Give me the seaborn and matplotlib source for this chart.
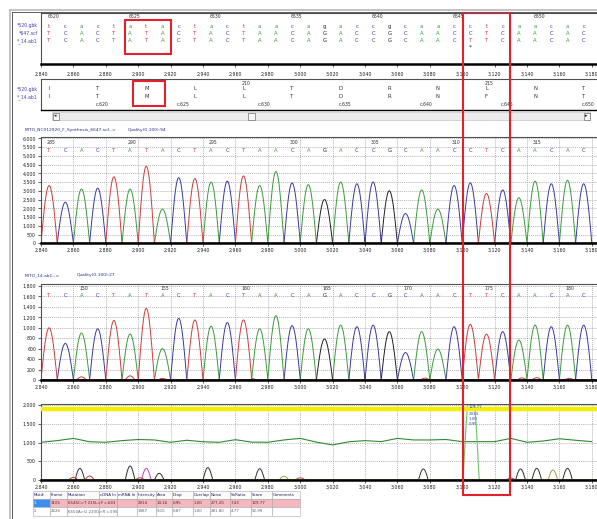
import numpy as np
import pandas as pd
import matplotlib
matplotlib.use("Agg")
import matplotlib.pyplot as plt
from matplotlib.patches import Rectangle
from matplotlib.ticker import FuncFormatter, MultipleLocator
import matplotlib.transforms as mtransforms
import seaborn as sns

# --- Dados ---
W, H = 597, 519

# posicoes dos picos (unidades de scan)
posicoes = [2845, 2855, 2865, 2875, 2885, 2895, 2905, 2915, 2925, 2935, 2945, 2955,
            2965, 2975, 2985, 2995, 3005, 3015, 3025, 3035, 3045, 3055, 3065, 3075,
            3085, 3095, 3105, 3115, 3125, 3135, 3145, 3155, 3165, 3175]

seq_ref = list("tcactatactactaacagaccgcaacctcaacac")
seq_scf = list("TCACTATACTACTAACAGACCGCAACCTCAACAC")
seq_ab1 = list("TCACTATACTACTAACAGACCGCAACTTCAACAC")

# alturas dos picos - cromatograma 1 (scf)
alturas_scf = [3300, 2350, 3100, 3150, 3800, 3100, 4400, 1950, 3750, 3700, 3500, 3550,
               3850, 3300, 4100, 3450, 3350, 2500, 3500, 3400, 3500, 3000, 1700, 3050,
               1950, 3300, 3450, 2850, 3050, 2600, 3550, 3400, 3600, 3400]
# alturas dos picos - cromatograma 2 (ab1)
alturas_ab1 = [1000, 700, 900, 980, 1140, 880, 1330, 600, 1180, 1110, 1030, 1100,
               1150, 980, 1230, 1040, 980, 785, 1050, 1020, 1050, 925, 525, 925,
               590, 1020, 1065, 880, 925, 765, 1050, 1020, 1050, 1050]
# picos secundarios pequenos (vermelhos) no cromatograma 2
secund_pos = [2865, 2895, 2905, 2915, 2935, 2970, 3077, 3137, 3146, 3166]
secund_alt = [60, 80, 40, 30, 40, 30, 35, 40, 45, 30]

marcas_scf = ["285", "290", "295", "300", "305", "310", "315"]
marcas_ab1 = ["150", "155", "160", "165", "170", "175", "180"]
marcas_ref = ["6520", "6525", "6530", "6535", "6540", "6545", "6550"]

aa_ref = ["I", "T", "M", "L", "L", "T", "D", "R", "N", "L", "N", "T"]
aa_ab1 = ["I", "T", "M", "L", "L", "T", "D", "R", "N", "F", "N", "T"]
codons = ["c.620", "c.625", "c.630", "c.635", "c.640", "c.645", "c.650"]

# painel de mutacao
linha_pos = [2840, 2850, 2860, 2870, 2880, 2890, 2900, 2910, 2920, 2930, 2940, 2950,
             2960, 2970, 2980, 2990, 3000, 3010, 3020, 3030, 3040, 3050, 3060, 3070,
             3080, 3090, 3100, 3110, 3120, 3130, 3140, 3150, 3160, 3170, 3180]
linha_val = [1006, 1050, 1110, 1020, 1006, 1050, 1080, 1068, 1006, 1060, 1020, 1006,
             1075, 1010, 1006, 1068, 1110, 1010, 935, 1020, 1050, 1023, 1110, 1068,
             1068, 1080, 1023, 1023, 1023, 1110, 1006, 1040, 1100, 1060, 1023]
limiar = 1900
picos_mut_pos = [2864, 2895, 2913, 2943, 2975, 3076, 3136, 3146, 3165,
                 2860, 2870, 2901, 3000, 3130, 2905, 2990, 3156]
picos_mut_alt = [311, 374, 178, 330, 302, 294, 294, 311, 311,
                 71, 107, 60, 60, 50, 311, 100, 267]
picos_mut_cor = ["k"] * 9 + ["r"] * 5 + ["m", "o", "o"]
mut_principal = (3105.5, 2600)
mut_textos = ["129.77", "2914", "1.00", "0.95"]
mut_textos_y = [1949, 1762, 1629, 1495]

colunas = ["Mut#", "Frame", "Mutation", "cDNA In", "mRNA In", "Intensity", "Area",
           "Drop", "Overlap", "Noise", "SnRatio", "Score", "Comments"]
linha1 = ["1", "3105", "6546C>T 215L>F c.643", "", "", "2914", "14.16", "0.95",
          "1.00", "277.20", "7.43", "129.77", ""]
linha2 = ["2", "2626", "6500A>G 233Q>R c.595", "", "", "1987", "9.15", "0.87",
          "1.00", "281.80", "4.77", "92.99", ""]

CORES = {"A": "#3c9a3c", "C": "#3a3aa0", "G": "#202020", "T": "#cc3c3c"}
CORES_MUT = {"k": "#303030", "r": "#d04040", "m": "#c040c0", "o": "#a0a040"}
AZUL = "#2a2a90"

# tamanhos de fonte
FS_TICK = 3.4
FS_BASE = 3.8
FS_MARCA = 3.3
FS_TITULO = 3.2
FS_TABELA = 2.9

# --- Geometria (pixels da captura) ---
AX_L, AX_R = 41, 603
PX_UN = 1.62
X_MIN, X_MAX = 2840, 2840 + (AX_R - AX_L) / PX_UN


def eixo_px(fig, top, bottom):
    return fig.add_axes([AX_L / W, 1 - bottom / H, (AX_R - AX_L) / W, (bottom - top) / H])


def lombada(x, centro, altura, meia):
    d = np.clip(np.abs(x - centro) / meia, 0, 1)
    return altura * np.cos(d * np.pi / 2)


def fmt_milhar(v, p):
    return f"{int(round(v)):,}"


def estilo(ax, ymax, ystep, rotulos_x=True):
    ax.set_xlim(X_MIN, X_MAX)
    ax.set_ylim(0, ymax)
    ax.xaxis.set_major_locator(MultipleLocator(20))
    ax.yaxis.set_major_locator(MultipleLocator(ystep))
    ax.xaxis.set_major_formatter(FuncFormatter(fmt_milhar))
    ax.yaxis.set_major_formatter(FuncFormatter(fmt_milhar))
    ax.set_axisbelow(True)
    ax.grid(True, ls=(0, (1.5, 1.5)), color="#9a9a9a", lw=0.5)
    ax.tick_params(bottom=True, left=True, length=2, width=0.5, pad=1.5,
                   labelsize=FS_TICK, colors="#202020", labelbottom=rotulos_x)
    ax.set_xlabel("")
    ax.set_ylabel("")
    ax.spines["right"].set_visible(False)
    for s in ("top", "left"):
        ax.spines[s].set_color("#505050")
        ax.spines[s].set_linewidth(0.8)
    ax.spines["bottom"].set_color("black")
    ax.spines["bottom"].set_linewidth(1.8)


def tracos(seq, alturas, extra_pos=(), extra_alt=()):
    x = np.linspace(2836, 3190, 2400)
    linhas = []
    for b in "ACGT":
        y = np.zeros_like(x)
        for p, s, h in zip(posicoes, seq, alturas):
            if s.upper() == b:
                y += lombada(x, p, h, 5)
        if b == "T":
            for p, h in zip(extra_pos, extra_alt):
                y += lombada(x, p, h, 3)
        linhas.append(pd.DataFrame({"pos": x, "sinal": y, "base": b}))
    return pd.concat(linhas, ignore_index=True)


def cromatograma(ax, seq, alturas, marcas, idx_marca0, ymax, ystep, extra_pos=(), extra_alt=()):
    df = tracos(seq, alturas, extra_pos, extra_alt)
    sns.lineplot(data=df, x="pos", y="sinal", hue="base", palette=CORES, legend=False,
                 estimator=None, sort=False, lw=0.7, ax=ax)
    estilo(ax, ymax, ystep)
    tr = mtransforms.blended_transform_factory(ax.transData, ax.transAxes)
    for p, s in zip(posicoes, seq):
        ax.text(p, 0.88, s, color=CORES[s.upper()], fontsize=FS_BASE, ha="center", va="center",
                transform=tr)
    for k, m in enumerate(marcas):
        ax.text(posicoes[idx_marca0 + 5 * k] - 1.5, 0.95, m, color="#303030", fontsize=FS_MARCA,
                ha="left", va="center", transform=tr)


def main():
    sns.set_style("white")
    plt.rcParams["font.family"] = ["DejaVu Sans"]
    fig = plt.figure(figsize=(W / 100, H / 100), dpi=100)

    # --- painel de alinhamento ---
    ax_seq = eixo_px(fig, 13, 64)
    estilo(ax_seq, 1, 1)
    ax_seq.grid(False)
    ax_seq.set_yticks([])
    ax_seq.tick_params(pad=3.5)
    for p, a, b, c in zip(posicoes, seq_ref, seq_scf, seq_ab1):
        for y, s in zip((0.745, 0.602, 0.457), (a, b, c)):
            ax_seq.text(p, y, s, color=CORES[s.upper()], fontsize=FS_BASE, ha="center", va="center")
    ax_seq.text(posicoes[26], 0.33, "*", fontsize=4.2, ha="center", va="center", color="#202020")
    for k, m in enumerate(marcas_ref):
        ax_seq.text(posicoes[5 * k] - 1, 0.93, m, fontsize=FS_MARCA, ha="left", va="center",
                    color="#303030")

    # --- painel de aminoacidos ---
    ax_aa = eixo_px(fig, 79, 110)
    estilo(ax_aa, 1, 1, rotulos_x=False)
    ax_aa.grid(False)
    ax_aa.set_xticks([])
    ax_aa.set_yticks([])
    ax_aa.spines["bottom"].set_linewidth(1.0)
    for k, (a, b) in enumerate(zip(aa_ref, aa_ab1)):
        p = posicoes[3 * k]
        ax_aa.text(p, 0.68, a, fontsize=FS_BASE, ha="center", va="center", color="#303030")
        ax_aa.text(p, 0.42, b, fontsize=FS_BASE, ha="center", va="center", color="#303030")
    ax_aa.text(posicoes[12] - 1, 0.86, "210", fontsize=FS_MARCA, ha="left", va="center", color="#303030")
    ax_aa.text(posicoes[27] - 1, 0.86, "215", fontsize=FS_MARCA, ha="left", va="center", color="#303030")
    for k, c in enumerate(codons):
        ax_aa.text(posicoes[3 + 5 * k] - 1.5, 0.17, c, fontsize=FS_MARCA, ha="left", va="center",
                   color="#303030")

    # --- cromatogramas ---
    ax_c1 = eixo_px(fig, 137.3, 243.3)
    cromatograma(ax_c1, seq_scf, alturas_scf, marcas_scf, 0, 6057, 500)
    ax_c2 = eixo_px(fig, 284, 380)
    cromatograma(ax_c2, seq_ab1, alturas_ab1, marcas_ab1, 2, 1838, 200,
                 secund_pos, secund_alt)

    # --- painel de mutacao ---
    ax_m = eixo_px(fig, 404, 480)
    df_linha = pd.DataFrame({"pos": linha_pos, "valor": linha_val})
    sns.lineplot(data=df_linha, x="pos", y="valor", color="#2e8b2e", lw=0.8, ax=ax_m)
    ax_m.axhline(limiar, color="#f2f000", lw=3.2, zorder=3)
    x = np.linspace(2836, 3190, 2400)
    for p, h, c in zip(picos_mut_pos, picos_mut_alt, picos_mut_cor):
        y = lombada(x, p, h, 3)
        sel = y > 0
        sns.lineplot(x=x[sel], y=y[sel], color=CORES_MUT[c], lw=0.7, ax=ax_m, estimator=None)
    y = lombada(x, mut_principal[0], mut_principal[1], 5)
    sel = y > 0
    sns.lineplot(x=x[sel], y=y[sel], color="#70c070", lw=0.8, ax=ax_m, estimator=None)
    for t, yy in zip(mut_textos, mut_textos_y):
        ax_m.text(3104, yy, t, fontsize=2.8, color="#3040c0", ha="left", va="center", zorder=5)
    estilo(ax_m, 2027, 500)

    # --- camada de anotacao (pixels) ---
    ov = fig.add_axes([0, 0, 1, 1], zorder=10)
    ov.set_xlim(0, W)
    ov.set_ylim(H, 0)
    ov.axis("off")
    ov.patch.set_alpha(0)
    ov.plot([9.5, 9.5], [9.5, H], color="#b8b8b8", lw=1.2)
    ov.plot([9.5, W], [9.5, 9.5], color="#b8b8b8", lw=1.2)
    ov.plot([11.5, 11.5], [11.5, H], color="#5a5a5a", lw=0.7)
    ov.plot([11.5, W], [11.5, 11.5], color="#5a5a5a", lw=0.7)

    # nomes das sequencias
    for y, t in zip((26, 33.3, 40.7), ("*520.gbk", "*647.scf", "*_14.ab1")):
        ov.text(38, y, t, fontsize=FS_MARCA, color="#4040b0", ha="right", va="center")
    for y, t in zip((89, 97), ("*520.gbk", "*_14.ab1")):
        ov.text(38, y, t, fontsize=FS_MARCA, color="#4040b0", ha="right", va="center")

    # barra de rolagem
    ov.add_patch(Rectangle((52, 112), 538, 8, fc="#ececec", ec="#c8c8c8", lw=0.5))
    ov.add_patch(Rectangle((52.5, 112.5), 6.5, 7, fc="#f6f6f6", ec="#707070", lw=0.5))
    ov.add_patch(Rectangle((583.5, 112.5), 6.5, 7, fc="#f6f6f6", ec="#707070", lw=0.5))
    ov.add_patch(Rectangle((248, 112.5), 7, 7, fc="#f6f6f6", ec="#707070", lw=0.5))
    ov.text(55.7, 116, "\u25c2", fontsize=3.5, ha="center", va="center", color="#202020")
    ov.text(586.7, 116, "\u25b8", fontsize=3.5, ha="center", va="center", color="#202020")

    # titulos dos cromatogramas
    ov.text(25, 130, "MITO_NC012920_F_Synthesis_6647.scf-->", fontsize=FS_TITULO, color=AZUL,
            ha="left", va="center")
    ov.text(128, 130, "Quality(0-100):94", fontsize=FS_TITULO, color=AZUL, ha="left", va="center")
    ov.text(25, 275, "MITO_14.ab1-->", fontsize=FS_TITULO, color=AZUL, ha="left", va="center")
    ov.text(77, 275, "Quality(0-100):27", fontsize=FS_TITULO, color=AZUL, ha="left", va="center")

    # tabela de mutacoes
    bordas = [33, 50, 67, 99, 117, 137, 156, 172, 193, 210, 230, 251, 272, 300]
    linhas_y = [(491, 499, colunas, "#fbfbfb", "#202060"),
                (499, 507, linha1, "#f5b8c0", "#602020"),
                (507, 516, linha2, "#ffffff", "#606060")]
    for topo, base, valores, fundo, cor in linhas_y:
        for j, v in enumerate(valores):
            x0, x1 = bordas[j], bordas[j + 1]
            fc = fundo
            tc = cor
            if valores is linha1 and j == 0:
                fc, tc = "#3a8ef0", "white"
            cel = Rectangle((x0, topo), x1 - x0, base - topo, fc=fc, ec="#a8a8a8", lw=0.4)
            ov.add_patch(cel)
            txt = ov.text(x0 + 1, (topo + base) / 2, v, fontsize=FS_TABELA, color=tc,
                          ha="left", va="center")
            txt.set_clip_path(cel)

    # retangulos vermelhos de destaque
    for (x0, y0, w, h) in [(125, 20, 46, 34), (133, 81, 32, 25), (463, 12.5, 46.5, 482.5)]:
        ov.add_patch(Rectangle((x0, y0), w, h, fill=False, ec="#e3202c", lw=1.5))

    fig.savefig("out.png", dpi=100)
    plt.close(fig)


if __name__ == "__main__":
    main()
